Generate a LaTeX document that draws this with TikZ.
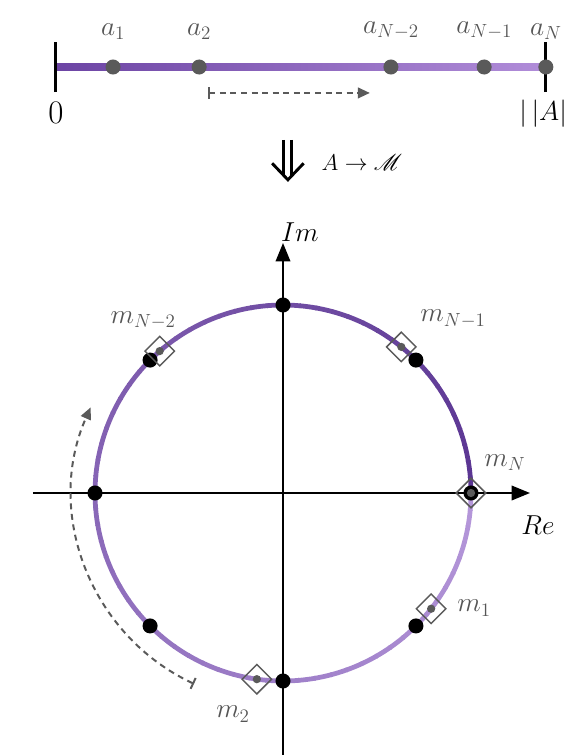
\documentclass[tikz,border=0pt]{standalone}
\usepackage{amsmath,amssymb}
\usepackage{mathrsfs}
\usepackage{xcolor}
\usetikzlibrary{shapes.geometric,arrows.meta,positioning,calc}

\definecolor{purpdark}{HTML}{5A3592}
\definecolor{purplight}{HTML}{B597DA}
\definecolor{linedark}{HTML}{6C44A4}
\definecolor{linelight}{HTML}{B18DD9}
\definecolor{dotgray}{HTML}{5A5A5A}
\definecolor{labgray}{HTML}{555555}

\begin{document}
\begin{tikzpicture}[>={Triangle[length=9pt,width=8pt]}]
    % Styles
    \tikzstyle{graydot} = [circle, fill=dotgray, inner sep=0pt, minimum size=0.4cm]
    \tikzstyle{smalldot} = [circle, fill=dotgray, inner sep=0pt, minimum size=0.22cm]
    \tikzstyle{blackdot} = [circle, fill=black, inner sep=0pt, minimum size=0.4cm]
    \tikzstyle{mbox} = [draw=dotgray, diamond, line width=1.1pt, inner sep=0pt, minimum size=0.8cm]
    \tikzstyle{lab} = [text=labgray, font=\fontsize{22}{24}\selectfont]
    \tikzstyle{sweep} = [draw=dotgray, line width=1.5pt, dash pattern=on 4.5pt off 3.5pt]

    \useasboundingbox (-7.527,-6.968) rectangle (7.793,13.112);

    % Interval [0, |A|] at the top
    \shade[left color=linedark, right color=linelight] (-6.04,11.24) rectangle (6.99,11.42);
    \draw[line width=2.4pt] (-6.04,10.66) -- (-6.04,11.99);
    \draw[line width=2.4pt] (6.99,10.66) -- (6.99,11.99);
    \node[font=\fontsize{23}{25}\selectfont] (zero) at (-6.04,10.11) {$0$};
    \node[font=\fontsize{20}{22}\selectfont] (norm) at (6.92,10.08) {$|\,|A|$};

    % Points a_k on the interval
    \node[graydot] (a1) at (-4.52,11.33) {};
    \node[graydot] (a2) at (-2.23,11.33) {};
    \node[graydot] (aN2) at (2.87,11.33) {};
    \node[graydot] (aN1) at (5.35,11.33) {};
    \node[graydot] (aN) at (6.99,11.33) {};
    \node[lab, above=0.4 of a1] {$a_1$};
    \node[lab, above=0.4 of a2] {$a_2$};
    \node[lab, above=0.4 of aN2] {$a_{N-2}$};
    \node[lab, above=0.4 of aN1] {$a_{N-1}$};
    \node[lab, above=0.4 of aN] {$a_N$};

    % Direction along the interval
    \coordinate (lineA) at (-2.0,10.64);
    \coordinate (lineB) at (2.31,10.64);
    \draw[sweep, {Bar[width=9pt]}->] (lineA) -- (lineB);

    % Map A -> M
    \coordinate (dnT) at (0.13,9.39);
    \coordinate (dnB) at (0.13,8.33);
    \draw[line width=2.2pt] ($(dnT)+(-0.105,0)$) -- ($(dnB)+(-0.105,0.12)$);
    \draw[line width=2.2pt] ($(dnT)+(0.105,0)$) -- ($(dnB)+(0.105,0.12)$);
    \draw[line width=2.2pt, line join=miter] ($(dnB)+(-0.42,0.44)$) -- (dnB) -- ($(dnB)+(0.42,0.44)$);
    \node[font=\fontsize{19}{22}\selectfont] (map) at (2.1,8.78) {$A \to \mathscr{M}$};

    % Complex plane axes
    \coordinate (reL) at (-6.65,0);
    \coordinate (reR) at (6.57,0);
    \coordinate (imB) at (0,-6.97);
    \coordinate (imT) at (0,6.65);
    \draw[line width=1.6pt, -{Triangle[length=14pt,width=11pt]}] (reL) -- (reR);
    \draw[line width=1.6pt, -{Triangle[length=14pt,width=11pt]}] (imB) -- (imT);
    \node[font=\fontsize{21}{24}\selectfont] (im) at (0.45,6.94) {$Im$};
    \node[font=\fontsize{21}{24}\selectfont] (re) at (6.78,-0.85) {$Re$};

    % Unit circle, colour running clockwise from light to dark
    \foreach \i in {0,...,71} {
        \pgfmathsetmacro{\p}{100*\i/71}
        \draw[purpdark!\p!purplight, line width=3.6pt] ({-5*\i}:5) arc[start angle={-5*\i}, end angle={-5*\i-5.4}, radius=5];
    }

    % Roots on the circle
    \foreach \a in {0,45,...,315}
        \node[blackdot] (r\a) at (\a:5) {};

    % Mapped points m_k
    \node[mbox] (mN) at (0:5) {};
    \node[smalldot] at (mN.center) {};
    \node[mbox] (mN1) at (51:5) {};
    \node[smalldot] at (mN1.center) {};
    \node[mbox] (mN2) at (131:5) {};
    \node[smalldot] at (mN2.center) {};
    \node[mbox] (m1) at (-38:5) {};
    \node[smalldot] at (m1.center) {};
    \node[mbox] (m2) at (-98:5) {};
    \node[smalldot] at (m2.center) {};

    \node[lab] (lN) at (5.90,0.82) {$m_N$};
    \node[lab] (lN1) at (4.52,4.63) {$m_{N-1}$};
    \node[lab] (lN2) at (-3.72,4.60) {$m_{N-2}$};
    \node[lab] (l1) at (5.08,-3.06) {$m_1$};
    \node[lab] (l2) at (-1.33,-5.88) {$m_2$};

    % Direction around the circle
    \coordinate (arcA) at (245:5.6);
    \draw[sweep, {Bar[width=9pt]}->] (arcA) arc[start angle=245, end angle=156, radius=5.6];
\end{tikzpicture}
\end{document}
